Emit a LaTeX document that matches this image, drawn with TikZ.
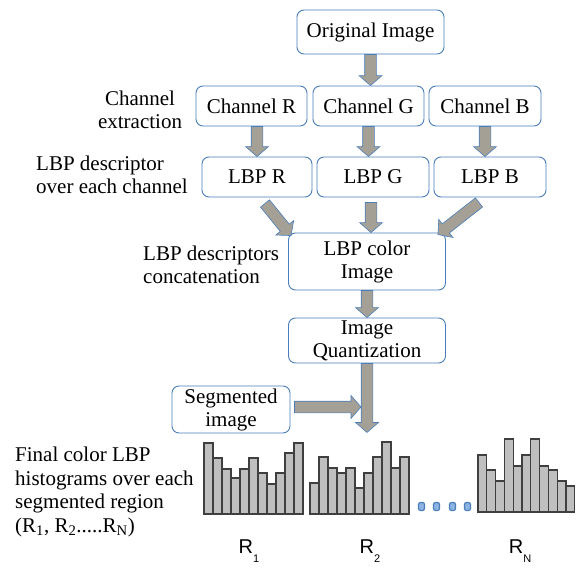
\documentclass[tikz,border=0pt]{standalone}
\usepackage{fontspec}
\setmainfont{Liberation Serif}
\newfontfamily\serifface{Liberation Serif}
\newfontfamily\labelsans{Liberation Sans}
\usetikzlibrary{calc}
\definecolor{boxblue}{HTML}{4A7EBB}
\definecolor{arrowfill}{HTML}{A5A096}
\definecolor{barfill}{HTML}{BFBFBF}
\definecolor{bardraw}{HTML}{3F3F3F}
\definecolor{dotfill}{HTML}{8EB4E3}

\tikzset{
  stage/.style={draw=boxblue, line width=0.9pt, rounded corners=7pt, fill=white,
    align=center, inner sep=0pt, font=\serifface\fontsize{21}{23}\selectfont},
  note/.style={align=left, inner sep=0pt, font=\serifface\fontsize{21}{23.5}\selectfont},
  blockarrow/.style={fill=arrowfill, draw=boxblue, line width=0.6pt, line join=miter},
  bar/.style={fill=barfill, draw=bardraw, line width=1.1pt},
  regionlabel/.style={inner sep=0pt, font=\labelsans\fontsize{20}{20}\selectfont},
  dotmark/.style={fill=dotfill, draw=boxblue, line width=1.2pt, rounded corners=2pt},
}

% block arrow with shaft and head, from tail #1 to tip #2
\newcommand{\blockarrowpath}[2]{%
  \coordinate (ba-t) at (#1);
  \coordinate (ba-p) at (#2);
  \coordinate (ba-h) at ($(ba-p)!10pt!(ba-t)$);
  \filldraw[blockarrow]
    ($(ba-t)!5.8pt!90:(ba-p)$) -- ($(ba-h)!5.8pt!-90:(ba-t)$)
    -- ($(ba-h)!11.5pt!-90:(ba-t)$) -- (ba-p)
    -- ($(ba-h)!11.5pt!90:(ba-t)$) -- ($(ba-h)!5.8pt!90:(ba-t)$)
    -- ($(ba-t)!5.8pt!-90:(ba-p)$) -- cycle;
}

\begin{document}
\begin{tikzpicture}[x=1pt,y=-1pt]
\useasboundingbox (0,0) rectangle (579,568);

% processing stages
\node[stage, minimum width=147pt, minimum height=44pt] (orig) at (370.5,32) {Original Image};
\node[stage, minimum width=111pt, minimum height=40pt] (chR) at (251.5,106) {Channel R};
\node[stage, minimum width=111pt, minimum height=40pt] (chG) at (368.5,106) {Channel G};
\node[stage, minimum width=112pt, minimum height=40pt] (chB) at (485,106) {Channel B};
\node[stage, minimum width=110pt, minimum height=40pt] (lbpR) at (257,177) {LBP R};
\node[stage, minimum width=112pt, minimum height=40pt] (lbpG) at (373,177) {LBP G};
\node[stage, minimum width=112pt, minimum height=40pt] (lbpB) at (490,177) {LBP B};
\node[stage, minimum width=157pt, minimum height=57pt] (color) at (367,261.5) {LBP color\\Image};
\node[stage, minimum width=157pt, minimum height=45pt] (quant) at (367,340.5) {Image\\Quantization};
\node[stage, minimum width=118pt, minimum height=47pt] (seg) at (231,409.5) {Segmented\\image};

% side notes
\node[note, align=center] (n1) at (140,110) {Channel\\extraction};
\node[note, anchor=west] (n2) at (36,175) {LBP descriptor\\over each channel};
\node[note, anchor=west] (n3) at (143,265) {LBP descriptors\\concatenation};
\node[note, anchor=west] (n4) at (15,492) {Final color LBP\\histograms over each\\segmented region\\(R\textsubscript{1}, R\textsubscript{2}.....R\textsubscript{N})};

% flow arrows
\coordinate (gtail) at ($(lbpG.south)+(-2,5)$);
\coordinate (gtip) at (gtail |- color.north);
\coordinate (histin) at ($(quant.south)+(0,69)$);
\coordinate (segin) at (361,407);
\blockarrowpath{orig.south}{orig.south |- chG.north}
\blockarrowpath{chR.south -| lbpR.north}{lbpR.north}
\blockarrowpath{chG.south}{chG.south |- lbpG.north}
\blockarrowpath{chB.south}{chB.south |- lbpB.north}
\blockarrowpath{$(lbpR.south)+(8,6)$}{$(color.north west)+(3,3)$}
\blockarrowpath{gtail}{gtip}
\blockarrowpath{$(lbpB.south)+(-11,5)$}{$(color.north east)+(-8,2)$}
\blockarrowpath{color.south}{quant.north}
\blockarrowpath{quant.south}{histin}
\blockarrowpath{$(seg.east)+(4,-2.5)$}{segin}

% histograms of the segmented regions
\foreach \h [count=\i from 0] in {71,56,45,36,45,56,41,30,41,61,71}
  \draw[bar] (204+9*\i,514) rectangle ++(9,-\h);
\draw[bardraw, line width=1.6pt] (204,514) -- (303,514);
\foreach \h [count=\i from 0] in {31,57,46,41,46,26,41,57,72,46,57}
  \draw[bar] (310+9*\i,514) rectangle ++(9,-\h);
\draw[bardraw, line width=1.6pt] (310,514) -- (409,514);
\foreach \h [count=\i from 0] in {57,42,31,73,46,57,73,46,42,31,26}
  \draw[bar] (478+8.8*\i,512) rectangle ++(8.8,-\h);
\draw[bardraw, line width=1.6pt] (478,512) -- (574.8,512);

% ellipsis between histograms
\foreach \x in {421.5,436.5,452.5,467.5}
  \draw[dotmark] (\x-3,502.5) rectangle (\x+3,510.5);

% region labels
\node[regionlabel] (r1) at (249,551) {R\raisebox{-0.8ex}{\fontsize{11}{11}\selectfont 1}};
\node[regionlabel] (r2) at (370,551) {R\raisebox{-0.8ex}{\fontsize{11}{11}\selectfont 2}};
\node[regionlabel] (rn) at (520,551) {R\raisebox{-0.8ex}{\fontsize{11}{11}\selectfont N}};
\end{tikzpicture}
\end{document}
